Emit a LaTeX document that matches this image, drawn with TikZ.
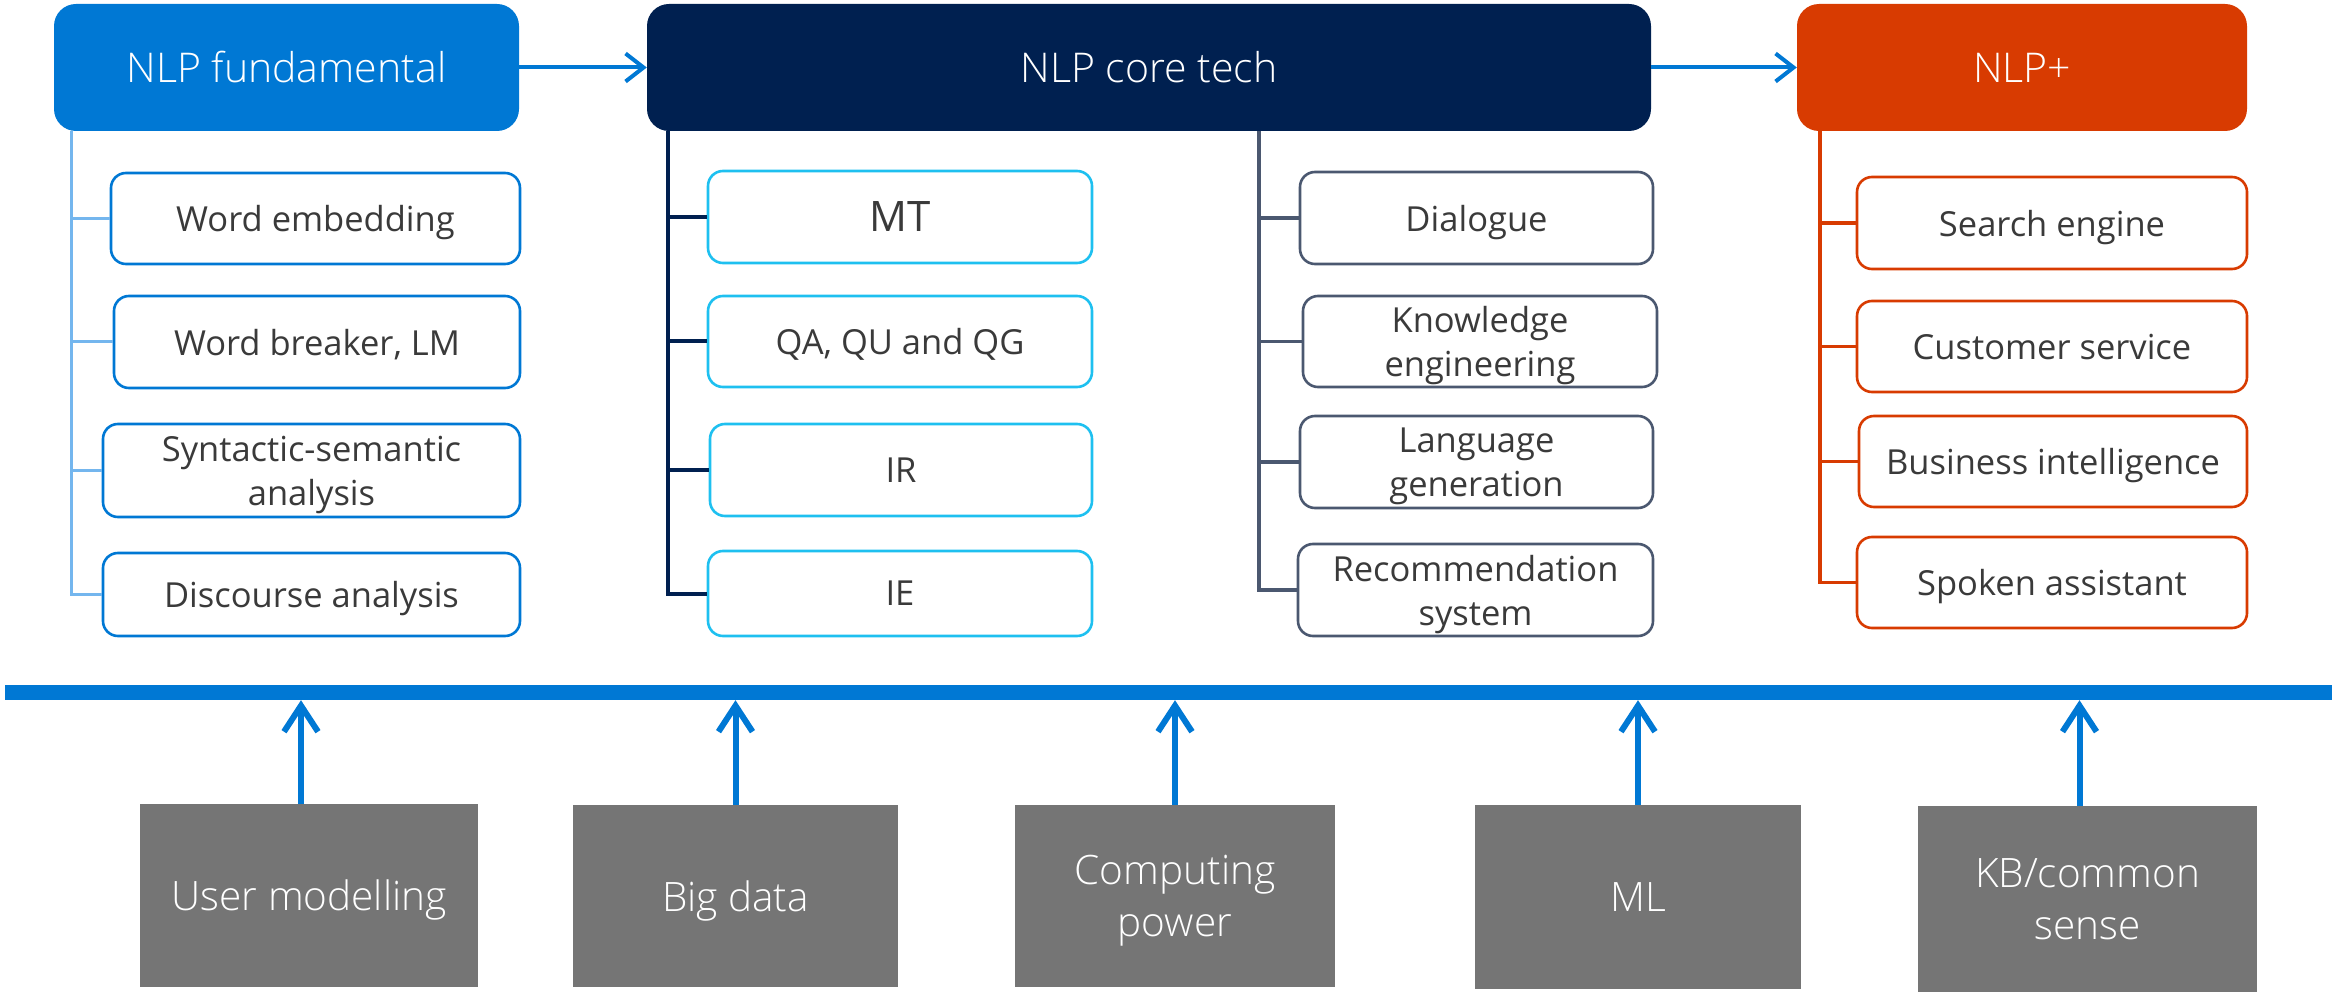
\documentclass[tikz,border=0pt]{standalone}
\usepackage{fontspec}
\setmainfont{Open Sans}
\newfontfamily\lightfont{Open Sans Light}
\usetikzlibrary{arrows.meta}
\definecolor{msblue}{HTML}{0078D4}
\definecolor{lightblue}{HTML}{74B6EE}
\definecolor{navy}{HTML}{002050}
\definecolor{cyanb}{HTML}{1EC0F0}
\definecolor{slate}{HTML}{4B5870}
\definecolor{orangered}{HTML}{D83B01}
\definecolor{boxgrey}{HTML}{757575}
\definecolor{txtgrey}{HTML}{3A3A3A}
\tikzset{
  header/.style={rounded corners=22pt, minimum height=127pt, inner sep=0pt,
    text=white, font=\lightfont\fontsize{41}{48}\selectfont},
  item/.style={draw, fill=white, line width=2.6pt, rounded corners=15pt,
    inner sep=0pt, text depth=0pt, align=center, text=txtgrey,
    font=\fontsize{34.5}{44}\selectfont},
  basebox/.style={fill=boxgrey, inner sep=0pt, text depth=0pt, align=center,
    text=white, font=\lightfont\fontsize{40.5}{52}\selectfont},
  fundline/.style={draw=lightblue, line width=3pt},
  coreline/.style={draw=navy, line width=4pt},
  sideline/.style={draw=slate, line width=3.5pt},
  plusline/.style={draw=orangered, line width=3.5pt},
  toparrow/.style={draw=msblue, line width=4pt, -{Straight Barb[length=18pt,width=28pt]}},
  uparrow/.style={draw=msblue, line width=6pt, -{Straight Barb[length=26pt,width=34pt]}},
}
\begin{document}
\begin{tikzpicture}[x=1pt,y=-1pt]
\useasboundingbox (0,0) rectangle (2338,992);

% headers
\node[header, fill=msblue, minimum width=465pt] (fund) at (286.5,67.5) {NLP fundamental};
\node[header, fill=navy, minimum width=1004pt] (core) at (1149,67.5) {NLP core tech};
\node[header, fill=orangered, minimum width=450pt] (plus) at (2022,67.5) {NLP+};

\draw[toparrow] (fund.east) -- (core.west);
\draw[toparrow] (core.east) -- (plus.west);

% fundamental items
\node[item, draw=msblue, minimum width=409pt, minimum height=91pt] (we) at (315.5,218.5) {Word embedding};
\node[item, draw=msblue, minimum width=406pt, minimum height=92pt] (wb) at (317,342) {Word breaker, LM};
\node[item, draw=msblue, minimum width=417pt, minimum height=93pt] (ss) at (311.5,470.5) {Syntactic-semantic\\analysis};
\node[item, draw=msblue, minimum width=417pt, minimum height=83pt] (da) at (311.5,594.5) {Discourse analysis};

% core tech, left column
\node[item, draw=cyanb, minimum width=384pt, minimum height=92pt, font=\fontsize{42}{48}\selectfont] (mt) at (900,217) {MT};
\node[item, draw=cyanb, minimum width=384pt, minimum height=91pt] (qa) at (900,341.5) {QA, QU and QG};
\node[item, draw=cyanb, minimum width=382pt, minimum height=92pt] (ir) at (901,470) {IR};
\node[item, draw=cyanb, minimum width=384pt, minimum height=85pt] (ie) at (900,593.5) {IE};

% core tech, right column
\node[item, draw=slate, minimum width=353pt, minimum height=92pt] (dl) at (1476.5,218) {Dialogue};
\node[item, draw=slate, minimum width=354pt, minimum height=91pt] (ke) at (1480,341.5) {Knowledge\\engineering};
\node[item, draw=slate, minimum width=353pt, minimum height=92pt] (lg) at (1476.5,462) {Language\\generation};
\node[item, draw=slate, minimum width=355pt, minimum height=92pt] (rs) at (1475.5,590) {Recommendation\\system};

% NLP+ items
\node[item, draw=orangered, minimum width=390pt, minimum height=92pt] (se) at (2052,223) {Search engine};
\node[item, draw=orangered, minimum width=390pt, minimum height=91pt] (cs) at (2052,346.5) {Customer service};
\node[item, draw=orangered, minimum width=388pt, minimum height=91pt] (bi) at (2053,461.5) {Business intelligence};
\node[item, draw=orangered, minimum width=390pt, minimum height=91pt] (sa) at (2052,582.5) {Spoken assistant};

% spines below the headers
\coordinate (fundspine) at (71,131);
\coordinate (coreLspine) at (668,131);
\coordinate (coreRspine) at (1259,131);
\coordinate (plusspine) at (1820,131);

\foreach \c in {we,wb,ss,da} \draw[fundline] (fundspine) |- (\c.west);
\foreach \c in {mt,qa,ir,ie} \draw[coreline] (coreLspine) |- (\c.west);
\foreach \c in {dl,ke,lg,rs} \draw[sideline] (coreRspine) |- (\c.west);
\foreach \c in {se,cs,bi,sa} \draw[plusline] (plusspine) |- (\c.west);

% foundation bar
\node[fill=msblue, minimum width=2327pt, minimum height=15pt, inner sep=0pt] (bar) at (1168.5,692.5) {};

% foundation boxes
\node[basebox, minimum width=338pt, minimum height=183pt] (um) at (309,895.5) {User modelling};
\node[basebox, minimum width=325pt, minimum height=182pt] (bd) at (735.5,896) {Big data};
\node[basebox, minimum width=320pt, minimum height=182pt] (cp) at (1175,896) {Computing\\power};
\node[basebox, minimum width=326pt, minimum height=184pt] (ml) at (1638,897) {ML};
\node[basebox, minimum width=339pt, minimum height=186pt] (kb) at (2087.5,899) {KB/common\\sense};

\coordinate (uma) at ([xshift=-8pt]um.north);
\coordinate (kba) at ([xshift=-8pt]kb.north);
\draw[uparrow] (uma) -- (uma |- bar.south);
\draw[uparrow] (bd.north) -- (bd.north |- bar.south);
\draw[uparrow] (cp.north) -- (cp.north |- bar.south);
\draw[uparrow] (ml.north) -- (ml.north |- bar.south);
\draw[uparrow] (kba) -- (kba |- bar.south);
\end{tikzpicture}
\end{document}
